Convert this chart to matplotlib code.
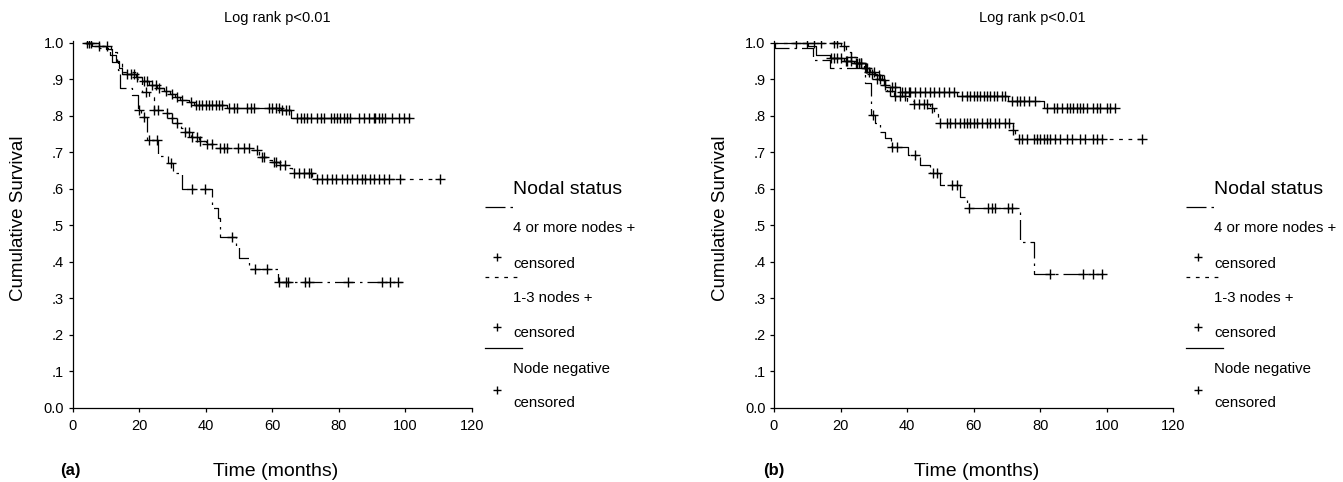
import numpy as np
import matplotlib.pyplot as plt
from matplotlib.lines import Line2D

plt.rcParams['font.family'] = ['Liberation Sans', 'DejaVu Sans']

W, H = 1343, 482

x_ticks = [0, 20, 40, 60, 80, 100, 120]
y_ticks = [0.0, 0.1, 0.2, 0.3, 0.4, 0.5, 0.6, 0.7, 0.8, 0.9, 1.0]
y_labels = ['0.0', '.1', '.2', '.3', '.4', '.5', '.6', '.7', '.8', '.9', '1.0']

# ---- panel (a) ----
a_neg_t = [4, 6, 10, 12, 13, 14, 15, 19, 21, 23, 25.4, 27.4, 29.4, 30.9, 32.4, 34.9, 36.4, 46.4, 62.5, 65.5]
a_neg_s = [1.0, 0.99, 0.982, 0.965, 0.95, 0.93, 0.915, 0.905, 0.894, 0.885, 0.877, 0.868, 0.859, 0.85, 0.843, 0.837, 0.829, 0.822, 0.816, 0.793]
a_neg_end = 101.4
a_neg_cens = [4.5, 5.5, 8, 16.5, 17.5, 18.5, 19.5, 21.5, 22.5, 24, 25, 26, 28, 29.8, 31.5, 33, 35.5, 37, 38, 39,
              40, 41, 42, 43, 44, 45, 47, 48.5, 49.5, 52.5, 53.5, 54.5, 59, 60, 61, 62, 63, 64, 65, 67.4, 68.5,
              69.5, 70.5, 71.5, 73.5, 74.5, 75.5, 77.5, 78.5, 79.5, 80.5, 81.5, 82.5, 83.5, 86, 87.5, 89, 90.5,
              91, 92, 93, 94, 96, 98, 99.5, 101]

a_mid_t = [4, 8, 11.5, 13.5, 15, 19.5, 21, 23, 24.5, 27.5, 29, 30.5, 32.5, 33.5, 35.5, 38, 40, 43, 53, 56, 58.5, 60, 62, 64.5, 66, 72]
a_mid_s = [1.0, 0.99, 0.975, 0.95, 0.92, 0.9, 0.865, 0.85, 0.816, 0.808, 0.795, 0.78, 0.765, 0.756, 0.743, 0.73, 0.722, 0.711, 0.706, 0.688, 0.68, 0.672, 0.665, 0.656, 0.642, 0.627]
a_mid_end = 110.4
a_mid_cens = [5, 10.5, 22, 24.5, 25.8, 28.5, 30, 31.4, 33.9, 34.9, 35.9, 37.4, 38.4, 40.5, 42, 44.4, 45.4, 46.4,
              49.8, 51.4, 52.9, 55.4, 56.9, 57.5, 60.4, 61, 62.4, 63.9, 66.5, 67.9, 69.4, 70.9, 71.6, 73.5, 75,
              76.5, 78, 79, 81, 82.5, 84, 85.5, 87, 88, 89.5, 90.5, 92, 93.5, 95, 98.4, 110.4]

a_high_t = [4, 8, 11.3, 12, 13.8, 14.3, 17.8, 19.8, 20.5, 22.3, 25.8, 28.8, 30.3, 32.8, 41.8, 43.8, 44.2, 49.1, 50.1, 53.1, 61.8]
a_high_s = [1.0, 0.985, 0.966, 0.948, 0.925, 0.875, 0.857, 0.816, 0.797, 0.733, 0.69, 0.67, 0.642, 0.599, 0.546, 0.519, 0.468, 0.439, 0.409, 0.379, 0.345]
a_high_end = 99
a_high_cens = [19.9, 21.6, 23, 25.4, 29.7, 35.9, 39.9, 47.8, 54.8, 58.3, 61.9, 64.1, 64.8, 69.8, 71.1, 82.9, 92.9, 95.4, 97.9]

# ---- panel (b) ----
b_neg_t = [0, 10.2, 12.5, 16.8, 21, 24, 27.3, 30.3, 32.4, 33.4, 38, 55, 70.3, 81.2]
b_neg_s = [1.0, 0.99, 0.966, 0.957, 0.95, 0.944, 0.92, 0.911, 0.898, 0.879, 0.864, 0.854, 0.841, 0.822]
b_neg_end = 102.6
b_neg_cens = [6.5, 17, 18, 19, 20, 21.5, 22, 23, 24.5, 25, 26, 28.5, 30, 31.5, 33, 35.5, 36.5, 38.5, 39.5, 40.5,
              41, 42.5, 44, 45.5, 47, 48, 49.5, 51, 52.5, 54, 56.5, 58, 59, 60, 61, 62, 63, 64, 65, 66, 67, 68.5,
              69.5, 71.5, 73, 74, 75, 76.5, 78.5, 82, 84, 85, 86.5, 88, 89, 90, 91, 92, 93, 94, 96, 97, 98, 100,
              101, 102.5]

b_mid_t = [0, 20, 21.5, 23, 25, 27, 29, 31, 32.5, 34, 36, 40, 42, 47, 48, 49.4, 71.8, 72.5]
b_mid_s = [1.0, 0.99, 0.975, 0.96, 0.945, 0.93, 0.915, 0.9, 0.885, 0.868, 0.855, 0.84, 0.832, 0.82, 0.806, 0.781, 0.76, 0.737]
b_mid_end = 110.6
b_mid_cens = [10, 12, 14, 18, 19, 21, 23, 25.5, 26, 27.5, 28, 29.5, 31, 32, 33.5, 35, 36.5, 38, 39.5, 42, 43.5, 45,
              46, 47.5, 50, 52, 53, 54.5, 56, 57, 58, 59, 60, 61, 62.5, 64, 65, 66.5, 67.5, 69.5, 70.5, 71.9, 73.5,
              74.5, 76, 78, 79, 80, 81, 82, 83, 84.5, 86, 88, 89.5, 92, 93.5, 96, 97, 98.5, 110.6]

b_high_t = [0, 0.3, 11.8, 16.8, 27.4, 29.2, 30.5, 32, 33.4, 35.1, 40.4, 43.9, 46.9, 49.9, 55.9, 57.9, 74, 78]
b_high_s = [1.0, 0.985, 0.953, 0.932, 0.889, 0.802, 0.78, 0.756, 0.738, 0.715, 0.692, 0.665, 0.642, 0.61, 0.578, 0.546, 0.455, 0.365]
b_high_end = 99
b_high_cens = [29.8, 35.4, 36.9, 42.4, 47.9, 48.9, 53.4, 54.9, 58.7, 64.4, 65.4, 66.4, 70.4, 71.4, 83, 93, 96, 98.6]

NEG = '-'
MID = (0, (3, 4.5))
HIGH = (0, (16, 4, 2, 4))
LW = 0.9


def fx(x):
    return x / W


def fy(y):
    return 1 - y / H


def km_curve(ax, t, s, t_end, cens, ls):
    t = np.asarray(t)
    s = np.asarray(s)
    ax.step(np.append(t, t_end), np.append(s, s[-1]), where='post', color='black', lw=LW, ls=ls)
    c = np.asarray(cens)
    cy = s[np.searchsorted(t, c, side='right') - 1]
    ax.plot(c, cy, ls='none', marker='+', ms=6.5, mew=1.0, color='black')


def setup_axes(ax):
    ax.set_xlim(0, 120)
    ax.set_ylim(0, 1.005)
    ax.spines[['top', 'right']].set_visible(False)
    ax.spines[['left', 'bottom']].set_linewidth(0.9)
    ax.set_xticks(x_ticks)
    ax.set_yticks(y_ticks)
    ax.set_yticklabels(y_labels)
    ax.tick_params(direction='out', length=3, width=0.9, labelsize=10.5)
    ax.tick_params(axis='x', pad=5)
    ax.tick_params(axis='y', pad=3)


def draw_legend(fig, x0):
    def line(y, ls, length):
        fig.add_artist(Line2D([fx(x0), fx(x0 + length)], [fy(y), fy(y)], color='black', lw=LW, ls=ls))

    def plus(y):
        fig.add_artist(Line2D([fx(x0 + 12)], [fy(y)], marker='+', ms=5.5, mew=1.0, color='black'))

    fig.text(fx(x0 + 28), fy(190), 'Nodal status', size=14, va='center')
    line(207, HIGH, 31)
    fig.text(fx(x0 + 28), fy(228), '4 or more nodes +', size=10.8, va='center')
    plus(257)
    fig.text(fx(x0 + 28), fy(264), 'censored', size=10.8, va='center')
    line(277, MID, 33)
    fig.text(fx(x0 + 28), fy(298), '1-3 nodes +', size=10.8, va='center')
    plus(327)
    fig.text(fx(x0 + 28), fy(333), 'censored', size=10.8, va='center')
    line(348, NEG, 37)
    fig.text(fx(x0 + 28), fy(369), 'Node negative', size=10.8, va='center')
    plus(390)
    fig.text(fx(x0 + 28), fy(403), 'censored', size=10.8, va='center')


fig = plt.figure(figsize=(W / 100, H / 100), dpi=100)

ax_a = fig.add_axes([fx(72.5), fy(407.7), fx(472) - fx(72.5), (407.7 - 40.9) / H])
ax_b = fig.add_axes([fx(774), fy(407.7), fx(1173.3) - fx(774), (407.7 - 40.9) / H])

km_curve(ax_a, a_neg_t, a_neg_s, a_neg_end, a_neg_cens, NEG)
km_curve(ax_a, a_mid_t, a_mid_s, a_mid_end, a_mid_cens, MID)
km_curve(ax_a, a_high_t, a_high_s, a_high_end, a_high_cens, HIGH)

km_curve(ax_b, b_neg_t, b_neg_s, b_neg_end, b_neg_cens, NEG)
km_curve(ax_b, b_mid_t, b_mid_s, b_mid_end, b_mid_cens, MID)
km_curve(ax_b, b_high_t, b_high_s, b_high_end, b_high_cens, HIGH)

for ax in (ax_a, ax_b):
    setup_axes(ax)

# titles, labels, panel letters
for cx, ylab_x, xlab_x, let_x, letter in [(277, 19, 276, 70, '(a)'), (1032, 720, 977, 774, '(b)')]:
    fig.text(fx(cx), fy(18), 'Log rank p<0.01', size=10.5, ha='center', va='center')
    fig.text(fx(ylab_x), fy(218), 'Cumulative Survival', size=13.5, rotation=90, ha='center', va='center')
    fig.text(fx(xlab_x), fy(471), 'Time (months)', size=14, ha='center', va='center')
    fig.text(fx(let_x), fy(470), letter, size=12, weight='bold', ha='center', va='center')

draw_legend(fig, 485)
draw_legend(fig, 1186)

fig.savefig('out.png', dpi=100)
